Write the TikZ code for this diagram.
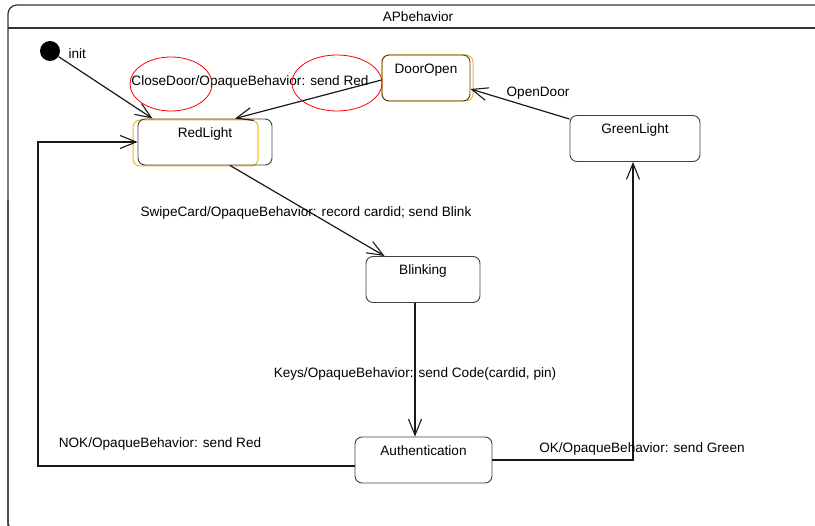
\documentclass[tikz,border=0pt]{standalone}
\usepackage{fontspec}
\setmainfont{Liberation Sans}
\usetikzlibrary{arrows.meta}
\usetikzlibrary{positioning}
\definecolor{selorange}{RGB}{240,185,20}

\begin{document}
\begin{tikzpicture}[
	x=1pt, y=-1pt,
  > = {Straight Barb[length=16pt,width=13pt,line width=1.1pt]},
  every node/.style = {font=\fontsize{13.6}{15}\selectfont},
  state/.style = {draw=black!75, line width=0.9pt, rounded corners=7pt, inner sep=0pt, text height=18.5pt, text depth=27.5pt, minimum width=#1},
  selbox/.style = {draw=selorange, line width=1pt, rounded corners=7pt, inner sep=0pt, minimum height=46pt, minimum width=#1},
  initdot/.style = {circle, fill=black, inner sep=0pt, minimum size=20pt},
  trans/.style = {->, line width=1.2pt, black!90},
  ring/.style = {draw=red, line width=0.8pt}
  ]
	\useasboundingbox (0,0) rectangle (815,526);

	% frame of the state machine
	\draw[black!80, line width=1.2pt, rounded corners=9pt] (8,530) -- (8,5) -- (840,5);
	\draw[black!80, line width=1.2pt, rounded corners=9pt] (8,200) -- (8,531) -- (840,531);
	\draw[black!80, line width=1.2pt] (8,28) -- (840,28);
	\node (title) at (418,17) {APbehavior};

	% selection boxes
	\node[selbox=125pt] (redsel) at (195.5,143) {};
	\node[selbox=91pt] (doorsel) at (427.5,78) {};

	% states
	\node[initdot] (init) at (50,51) {};
	\node[anchor=west] (initlbl) at (65,54) {init};
	\node[state=134pt] (red) at (205,142) {RedLight};
	\node[state=88pt] (door) at (426,78) {DoorOpen};
	\node[state=130pt] (green) at (635,138.5) {GreenLight};
	\node[state=114pt] (blink) at (423,279.5) {Blinking};
	\node[state=137pt] (auth) at (423.5,460) {Authentication};

	\coordinate (nokbend) at (38,142);

	% transitions
	\draw[trans] (init) -- ([xshift=15pt]red.north west);
	\draw[trans] ([yshift=-2pt]door.west) -- ([xshift=30pt]red.north);
	\draw[trans] ([yshift=-4pt]green.north west) -- ([yshift=-11pt]door.east);
	\draw[trans] ([xshift=25pt]red.south) -- ([xshift=19pt]blink.north west);
	\draw[trans] ([xshift=-8pt]blink.south) -- ([xshift=-8.5pt]auth.north);
	\draw[trans] (auth.east) -| ([xshift=-2pt]green.south);
	\draw[trans] ([yshift=-6pt]auth.west) -| (nokbend) -- (red.west);

	% transition labels
	\node (closelbl) at (250,82) {CloseDoor/OpaqueBehavior: send Red};
	\node (openlbl) at (538,93) {OpenDoor};
	\node (swipelbl) at (306,213) {SwipeCard/OpaqueBehavior: record cardid; send Blink};
	\node (keyslbl) at (415,374) {Keys/OpaqueBehavior: send Code(cardid, pin)};
	\node (noklbl) at (160,444) {NOK/OpaqueBehavior: send Red};
	\node (oklbl) at (642,449) {OK/OpaqueBehavior: send Green};

	% highlight rings
	\draw[ring] (171,84) ellipse [x radius=41, y radius=27];
	\draw[ring] (337,83) ellipse [x radius=45, y radius=28];

\end{tikzpicture}
\end{document}
